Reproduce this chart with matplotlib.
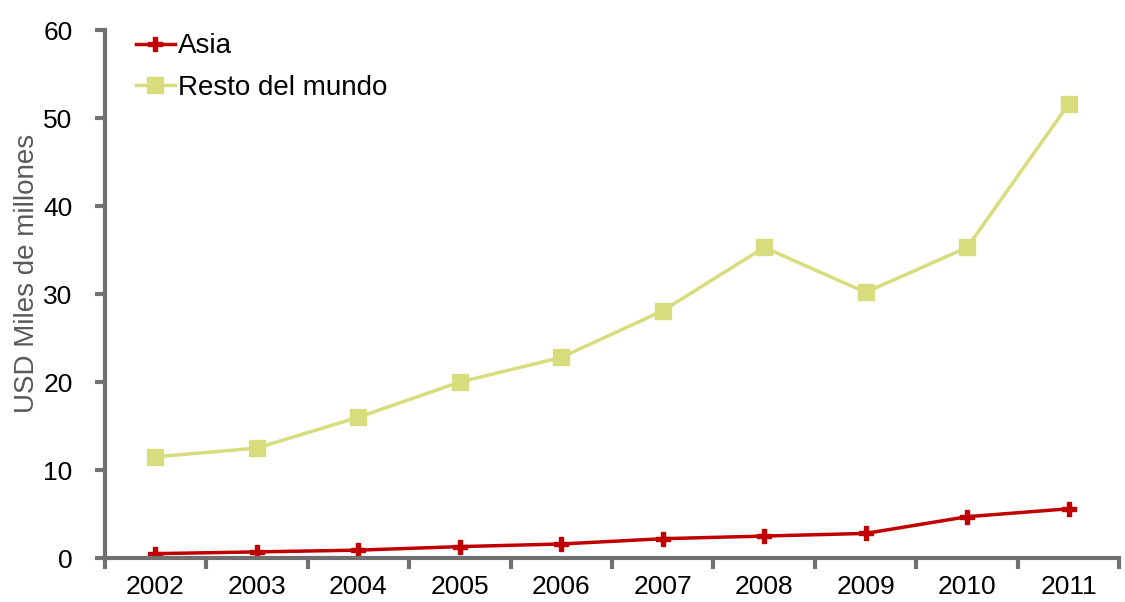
import numpy as np
import matplotlib.pyplot as plt

plt.rcParams['font.family'] = ['Liberation Sans', 'DejaVu Sans']

years = ['2002', '2003', '2004', '2005', '2006', '2007', '2008', '2009', '2010', '2011']
asia = [0.5, 0.7, 0.9, 1.3, 1.6, 2.2, 2.5, 2.8, 4.7, 5.6]
resto = [11.5, 12.5, 16.0, 20.0, 22.8, 28.1, 35.3, 30.2, 35.3, 51.6]

fig = plt.figure(figsize=(11.25, 6.02), dpi=100)
ax = fig.add_axes([0.093, 0.073, 0.902, 0.877])

x = np.arange(len(years))
ax.plot(x, asia, color='#C00000', lw=2.5, marker='P', ms=10, label='Asia')
ax.plot(x, resto, color='#D7DC7C', lw=2.5, marker='s', ms=12, label='Resto del mundo')

ax.set_xlim(-0.5, len(years) - 0.5)
ax.set_ylim(0, 60)
ax.set_yticks(range(0, 61, 10))
ax.set_xticks(x)
ax.set_xticklabels(years)
ax.set_xticks(np.arange(-0.5, len(years), 1), minor=True)
ax.tick_params(axis='x', which='major', length=0, pad=12, labelsize=19)
ax.tick_params(axis='x', which='minor', length=8, width=3, color='#707070', direction='out')
ax.tick_params(axis='y', length=7, width=3, color='#707070', labelsize=19, pad=16)

for s in ['top', 'right']:
    ax.spines[s].set_visible(False)
for s in ['left', 'bottom']:
    ax.spines[s].set_color('#707070')
    ax.spines[s].set_linewidth(3)

ax.set_ylabel('USD Miles de millones', fontsize=20, color='#595959')
ax.yaxis.set_label_coords(-0.064, 0.54)
ax.legend(loc='upper left', frameon=False, fontsize=20, handlelength=1.4,
          borderaxespad=0.0, bbox_to_anchor=(0.02, 1.015), labelspacing=0.55,
          handletextpad=0.1)

fig.savefig('out.png')
